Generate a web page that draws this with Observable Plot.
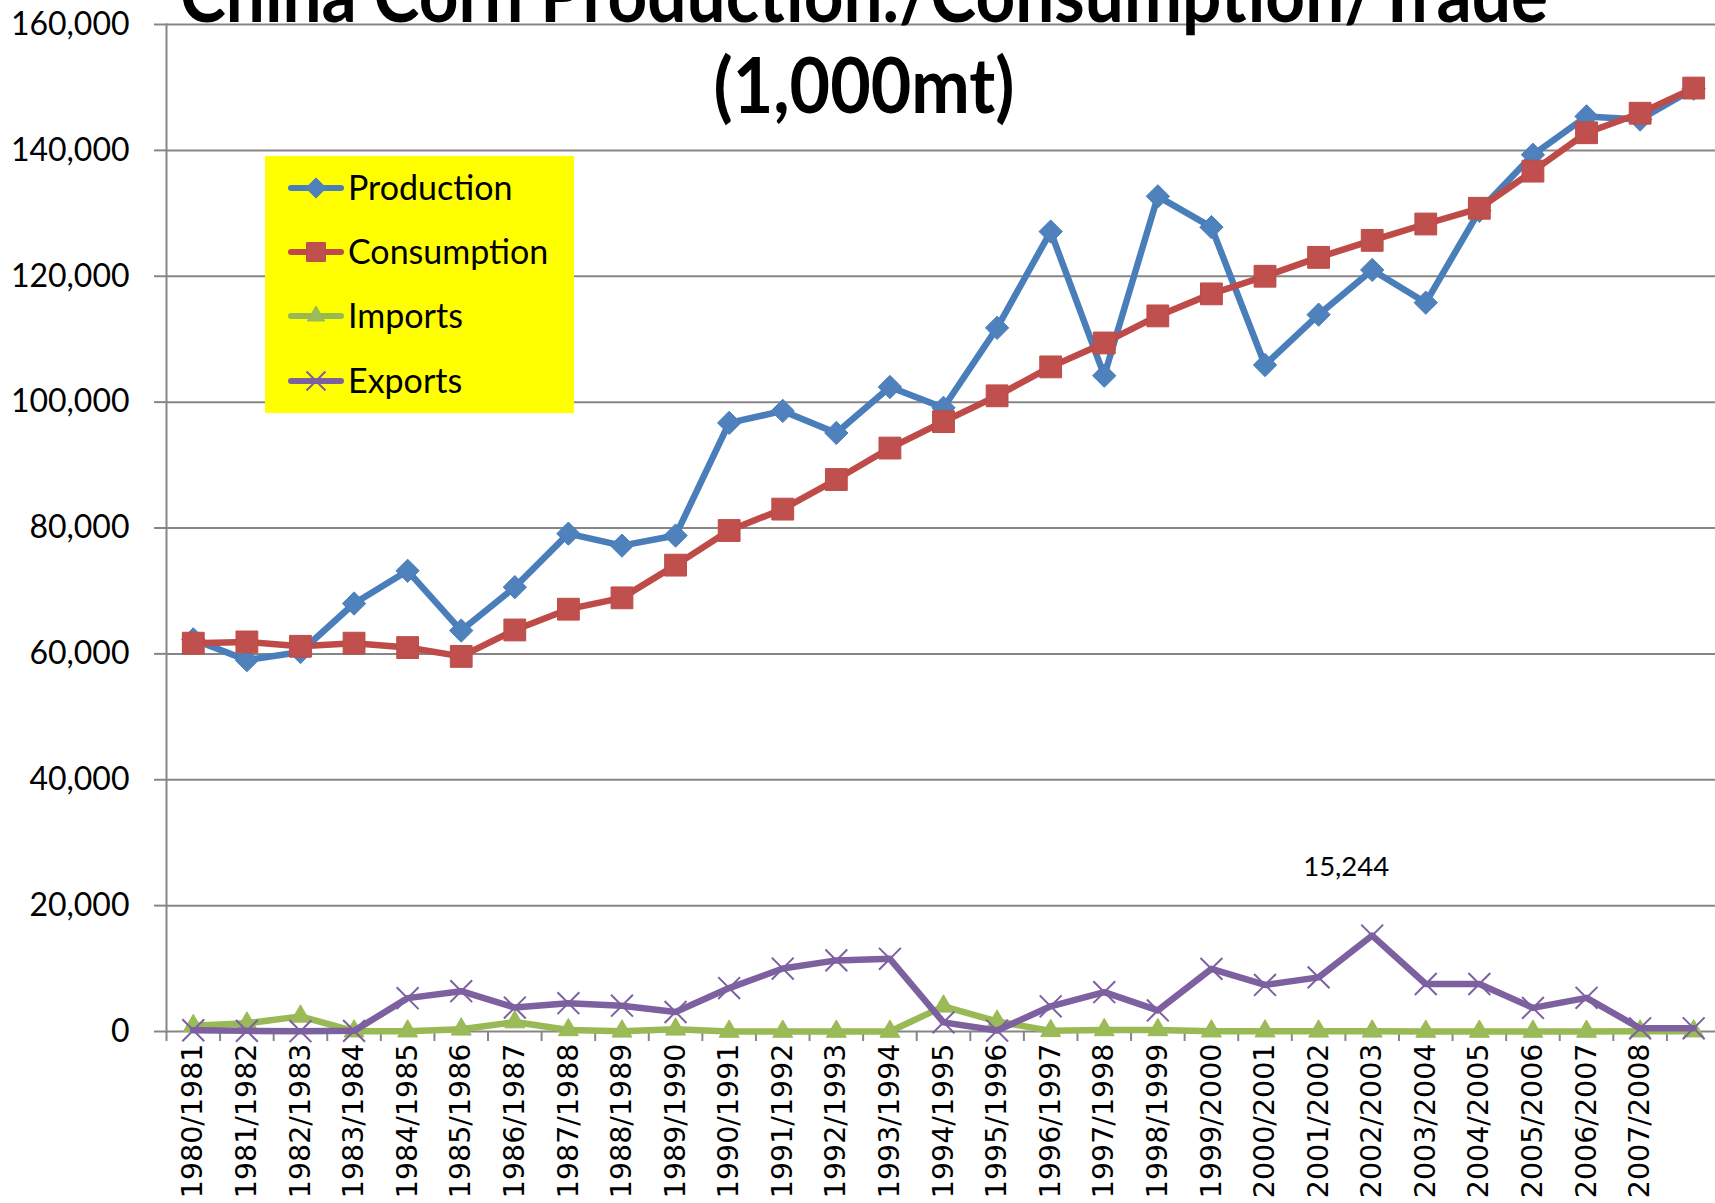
<!DOCTYPE html>
<html>
<head>
<meta charset="utf-8">
<script src="https://cdn.jsdelivr.net/npm/d3@7"></script>
<script src="https://cdn.jsdelivr.net/npm/@observablehq/plot@0.6"></script>
<style>
  html, body { margin: 0; padding: 0; background: white; overflow: hidden; }
  #wrap { position: relative; width: 1715px; height: 1203px; }
  #overlay { position: absolute; left: 0; top: 0; pointer-events: none; }
  g[aria-label="x-axis tick label"] text { font-family: "DejaVu Sans" !important; }
</style>
</head>
<body>
<div id="wrap"></div>
<script>
// ---- data ----
const categories = ["1980/1981","1981/1982","1982/1983","1983/1984","1984/1985","1985/1986","1986/1987","1987/1988","1988/1989","1989/1990","1990/1991","1991/1992","1992/1993","1993/1994","1994/1995","1995/1996","1996/1997","1997/1998","1998/1999","1999/2000","2000/2001","2001/2002","2002/2003","2003/2004","2004/2005","2005/2006","2006/2007","2007/2008","2008/2009"];
const shownLabels = categories.slice(0, 28);
const production = [62300, 59000, 60300, 68000, 73200, 63700, 70600, 79100, 77200, 78800, 96700, 98600, 95100, 102400, 99100, 111800, 127100, 104200, 132700, 127800, 105900, 113900, 121000, 115800, 130400, 139300, 145400, 144900, 149800];
const consumption = [61700, 61900, 61200, 61700, 61000, 59600, 63800, 67100, 68900, 74100, 79600, 83000, 87700, 92700, 96900, 101000, 105600, 109400, 113700, 117200, 120000, 123000, 125700, 128300, 130800, 136700, 142800, 145900, 149900];
const imports = [900, 1300, 2400, 50, 50, 350, 1500, 250, 30, 350, 0, 0, 0, 0, 4000, 1600, 100, 250, 250, 50, 50, 30, 30, 0, 0, 0, 0, 50, 50];
const exports = [200, 100, 50, 100, 5300, 6400, 3800, 4500, 4100, 3100, 6900, 10000, 11300, 11550, 1450, 150, 4000, 6250, 3350, 9950, 7400, 8600, 15244, 7550, 7550, 3750, 5350, 500, 500];
const yTicks = [0, 20000, 40000, 60000, 80000, 100000, 120000, 140000, 160000];
const seriesNames = ["Production", "Consumption", "Imports", "Exports"];
const dataLabels = [{cat: "2002/2003", value: 15244, text: "15,244"}];
const titleLines = ["China Corn Production./Consumption/Trade", "(1,000mt)"];

// ---- styles ----
const styles = {
  Production:  {line: "#4A7EBB", fill: "#4F81BD", symbol: "diamond2", r: 10.5},
  Consumption: {line: "#BE4B48", fill: "#C0504D", symbol: "square", r: 12.3},
  Imports:     {line: "#98B954", fill: "#9BBB59", symbol: "triangle", r: 7.4},
  Exports:     {line: "#7D60A0", fill: "none",    symbol: "times", r: 10}
};
const valuesBy = {Production: production, Consumption: consumption, Imports: imports, Exports: exports};
const rows = seriesNames.flatMap(s => categories.map((c, i) => ({series: s, cat: c, value: valuesBy[s][i]})));

const W = 1715, H = 1203, mL = 166, mT = 24, mB = 172;
const xRange = [166, 1720];
const step = (xRange[1] - xRange[0]) / categories.length;

const marks = [
  Plot.gridY(yTicks, {stroke: "#868686", strokeOpacity: 1, strokeWidth: 2}),
  Plot.frame({anchor: "left", stroke: "#868686", strokeWidth: 2}),
  Plot.axisY(yTicks, {tickSize: 12, stroke: "#868686", strokeWidth: 2, tickFormat: () => "", fill: "none", label: null}),
  Plot.axisY(yTicks, {tickSize: 0, tickPadding: 37, tickFormat: d3.format(","), fontSize: 32, fontFamily: "Lato", fill: "#000", label: null}),
  Plot.axisX(categories, {tickSize: 10, stroke: "#868686", strokeWidth: 2, dx: -step / 2, tickFormat: () => "", fill: "none", label: null}),
  Plot.axisX(shownLabels, {tickSize: 0, tickPadding: 12, tickRotate: -90, fontSize: 28.5, fontFamily: "DejaVu Sans", fill: "#000", label: null})
];
for (const s of seriesNames) {
  const st = styles[s];
  const d = rows.filter(r => r.series === s);
  marks.push(Plot.line(d, {x: "cat", y: "value", stroke: st.line, strokeWidth: 6.5, strokeLinejoin: "round", strokeLinecap: "round"}));
  if (st.symbol === "times") {
    marks.push(Plot.dot(d, {x: "cat", y: "value", symbol: "times", r: st.r, stroke: st.line, strokeWidth: 2, fill: "none"}));
  } else {
    marks.push(Plot.dot(d, {x: "cat", y: "value", symbol: st.symbol, r: st.r, fill: st.fill, stroke: st.line, strokeWidth: 1}));
  }
}
marks.push(Plot.text(dataLabels, {x: "cat", y: "value", text: "text", dx: -26, dy: -68, fontSize: 27.5, fontFamily: "Lato", fill: "#000"}));

const chart = Plot.plot({
  width: W, height: H,
  marginLeft: mL, marginTop: mT, marginBottom: mB, marginRight: 0,
  x: {type: "point", domain: categories, range: xRange, padding: 0.5, round: false},
  y: {domain: [0, 160000]},
  style: {background: "white", fontFamily: "Lato", overflow: "visible"},
  marks
});
const wrap = document.getElementById("wrap");
wrap.appendChild(chart);
d3.select(chart).selectAll('g[aria-label="x-axis tick label"]').attr("font-family", "DejaVu Sans");

// ---- overlay: title + legend ----
const ov = d3.select(wrap).append("svg").attr("id", "overlay").attr("width", W).attr("height", H);
const tl = [{y: 22, len: 1368}, {y: 113, len: 301}];
titleLines.forEach((t, i) => {
  ov.append("text").attr("x", 864).attr("y", tl[i].y).attr("text-anchor", "middle")
    .attr("font-family", "Lato").attr("font-weight", 700).attr("font-size", 77)
    .attr("textLength", tl[i].len).attr("lengthAdjust", "spacingAndGlyphs").attr("fill", "#000").text(t);
});
const lg = ov.append("g");
lg.append("rect").attr("x", 265).attr("y", 156).attr("width", 309).attr("height", 257).attr("fill", "#FFFF00");
const rowY = [188, 252, 316, 381];
const symMap = {diamond2: d3.symbolDiamond2, square: d3.symbolSquare, triangle: d3.symbolTriangle, times: d3.symbolTimes};
seriesNames.forEach((s, i) => {
  const st = styles[s];
  const y = rowY[i];
  lg.append("line").attr("x1", 291).attr("x2", 341).attr("y1", y).attr("y2", y)
    .attr("stroke", st.line).attr("stroke-width", 6).attr("stroke-linecap", "round");
  const p = d3.symbol(symMap[st.symbol], Math.PI * st.r * st.r * 0.75)();
  const path = lg.append("path").attr("d", p).attr("transform", `translate(316,${y})`);
  if (st.symbol === "times") path.attr("fill", "none").attr("stroke", st.line).attr("stroke-width", 2);
  else path.attr("fill", st.fill).attr("stroke", st.line).attr("stroke-width", 1);
  lg.append("text").attr("x", 348).attr("y", y).attr("dy", "0.36em")
    .attr("font-family", "Lato").attr("font-size", 34).attr("fill", "#000").text(s);
});
</script>
</body>
</html>
